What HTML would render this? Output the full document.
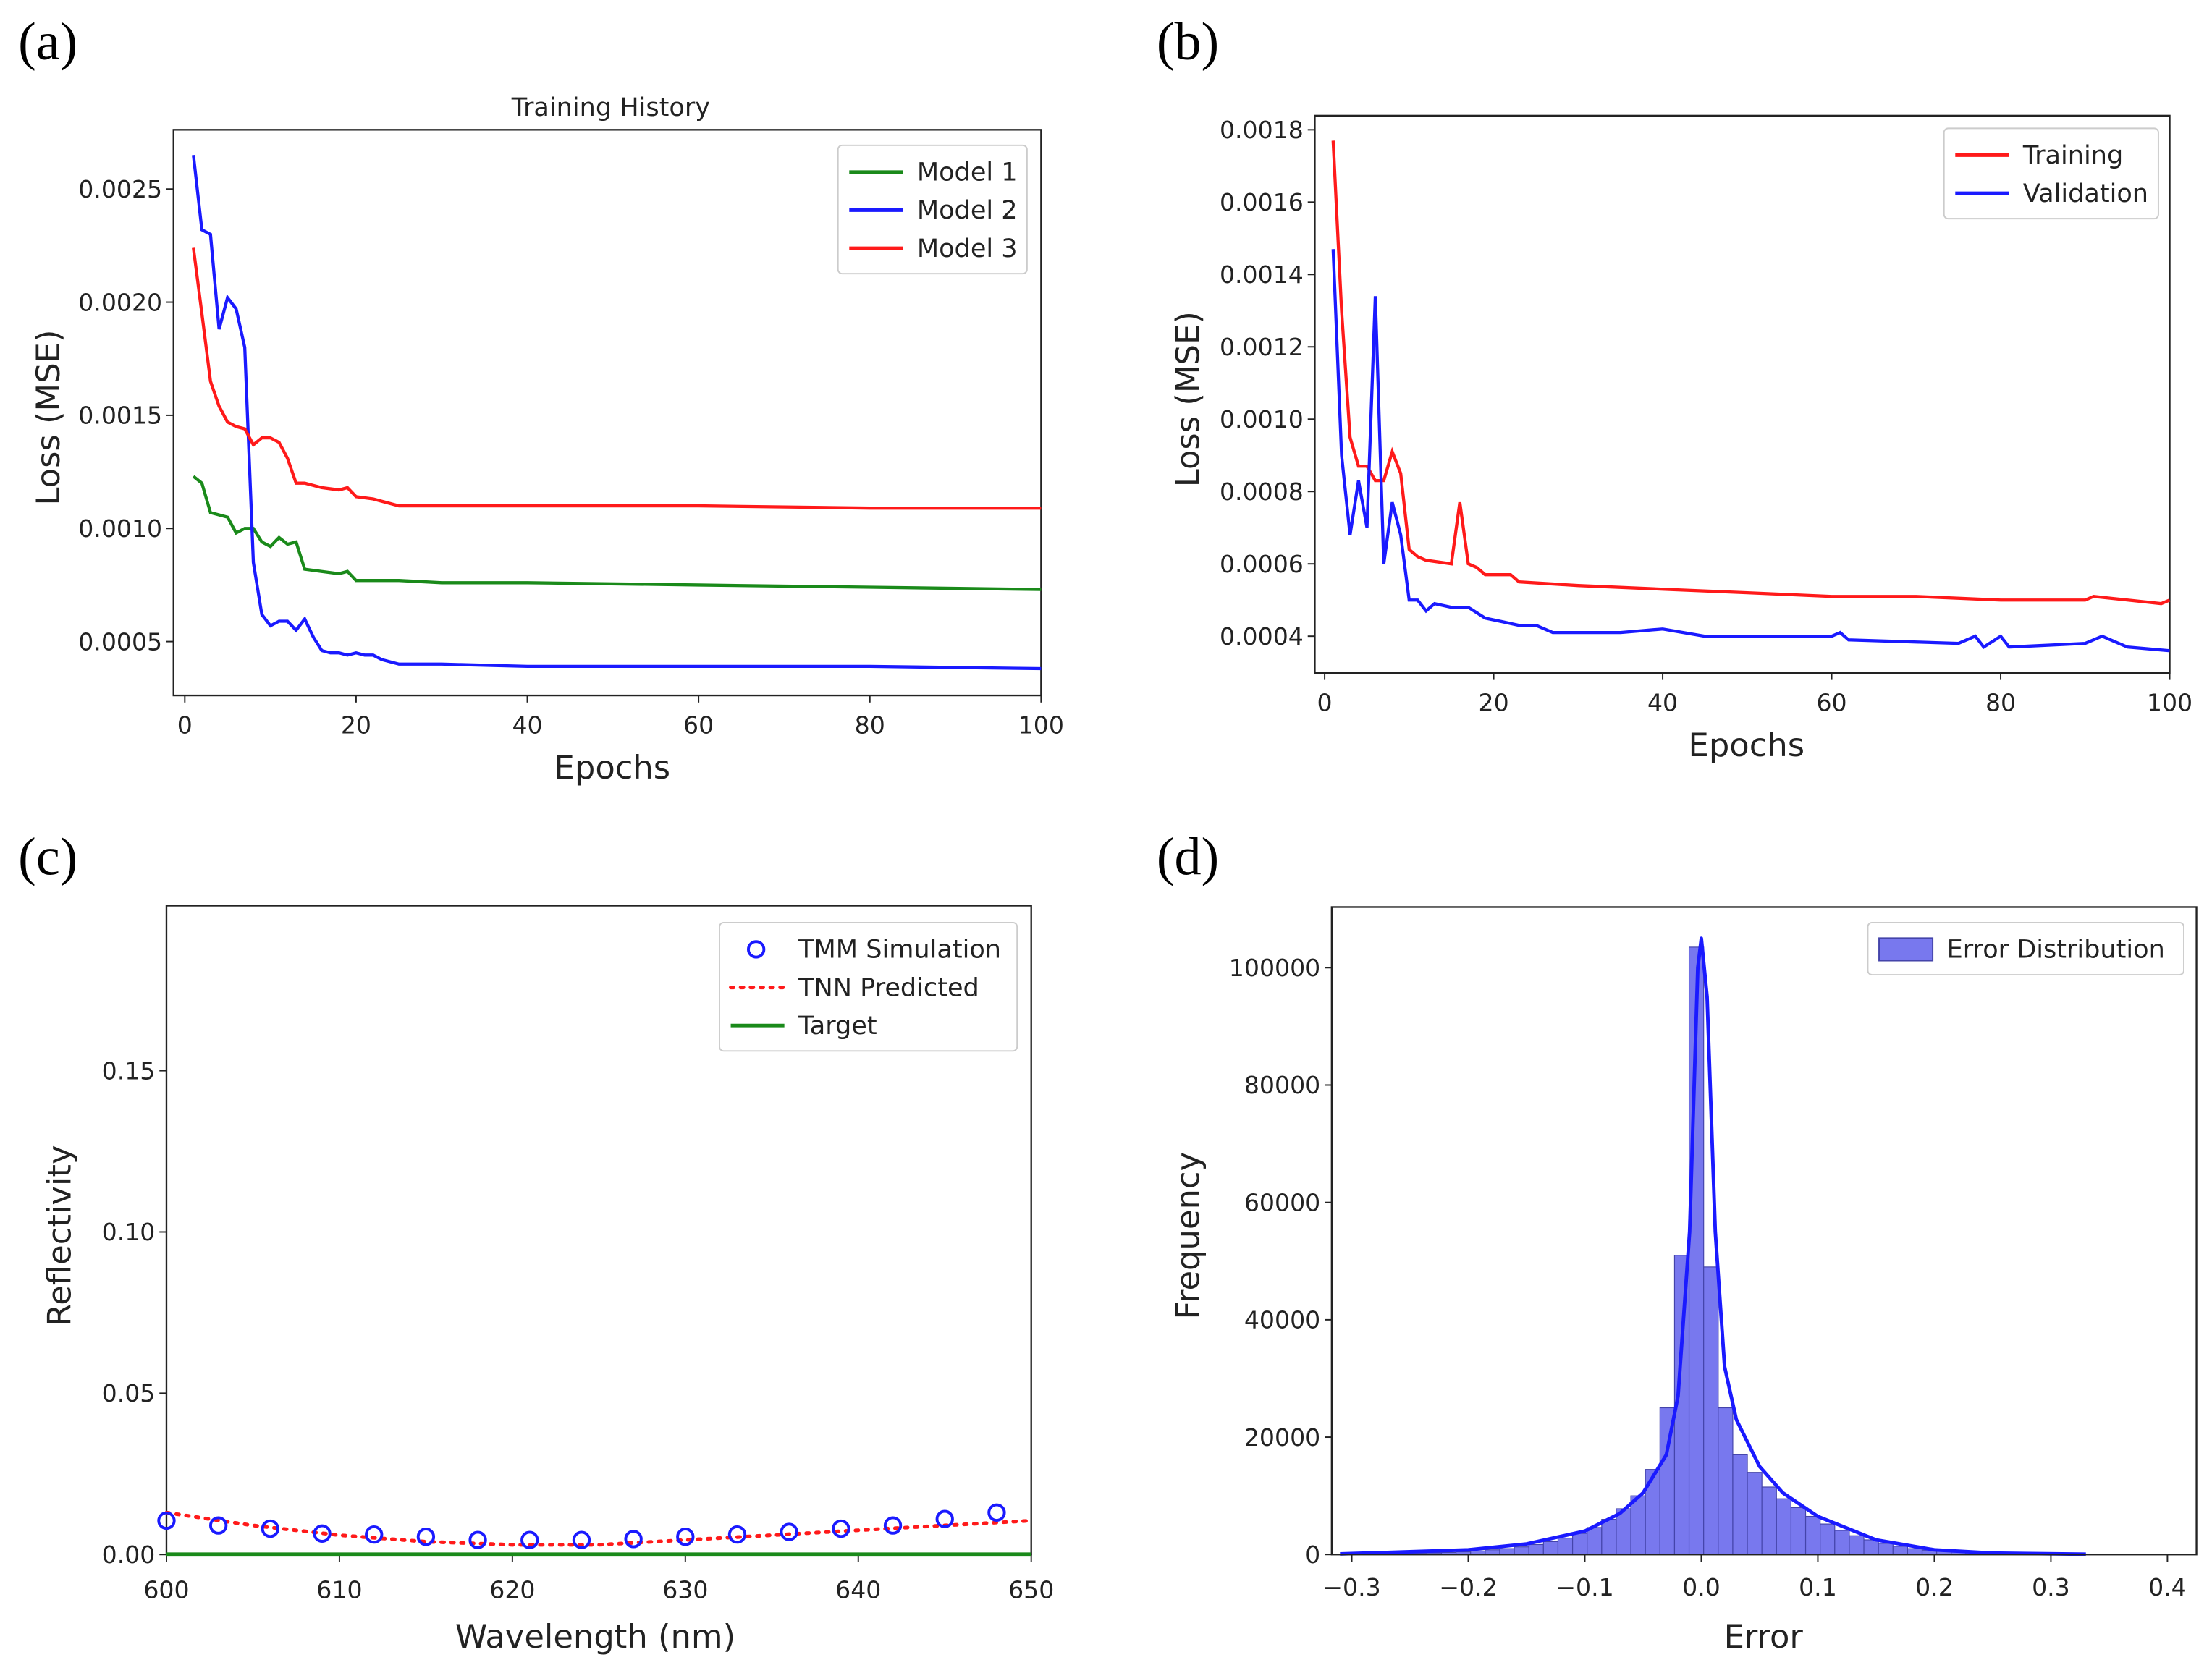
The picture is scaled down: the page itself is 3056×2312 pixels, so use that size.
<!DOCTYPE html>
<html><head><meta charset="utf-8"><style>
html,body{margin:0;padding:0;background:#fff}
svg{display:block}
text{font-family:"DejaVu Sans","Liberation Sans",sans-serif;fill:#222}
.pl{font-family:"Liberation Serif",serif;font-size:38px;fill:#000}
.tk{font-size:17px}
.al{font-size:23px}
.lg{font-size:18px}
</style></head><body>
<svg id="fig" width="3056" height="2312" viewBox="0 0 1568 1186" preserveAspectRatio="none" xmlns="http://www.w3.org/2000/svg">
<g id="root"></g>
</svg>
<script>
// Panel a data
const epochsA1=[1,2,3,4,5,6,7,8,9,10,11,12,13,14,16,18,19,20,25,30,40,60,80,100];
const model1=[0.00123,0.0012,0.00107,0.00106,0.00105,0.00098,0.001,0.001,0.00094,0.00092,0.00096,0.00093,0.00094,0.00082,0.00081,0.0008,0.00081,0.00077,0.00077,0.00076,0.00076,0.00075,0.00074,0.00073];
const epochsA2=[1,2,3,4,5,6,7,8,9,10,11,12,13,14,15,16,17,18,19,20,21,22,23,25,30,40,60,80,100];
const model2=[0.00265,0.00232,0.0023,0.00188,0.00202,0.00197,0.0018,0.00085,0.00062,0.00057,0.00059,0.00059,0.00055,0.0006,0.00052,0.00046,0.00045,0.00045,0.00044,0.00045,0.00044,0.00044,0.00042,0.0004,0.0004,0.00039,0.00039,0.00039,0.00038];
const epochsA3=[1,2,3,4,5,6,7,8,9,10,11,12,13,14,16,18,19,20,22,25,30,40,60,80,100];
const model3=[0.00224,0.00195,0.00165,0.00154,0.00147,0.00145,0.00144,0.00137,0.0014,0.0014,0.00138,0.00131,0.0012,0.0012,0.00118,0.00117,0.00118,0.00114,0.00113,0.0011,0.0011,0.0011,0.0011,0.00109,0.00109];
const ticksAy=[0.0005,0.001,0.0015,0.002,0.0025];
const ticksX=[0,20,40,60,80,100];
// Panel b data
const epochsBt=[1,2,3,4,5,6,7,8,9,10,11,12,15,16,17,18,19,22,23,30,40,50,60,70,80,90,91,99,100];
const training=[0.00177,0.0013,0.00095,0.00087,0.00087,0.00083,0.00083,0.00091,0.00085,0.00064,0.00062,0.00061,0.0006,0.00077,0.0006,0.00059,0.00057,0.00057,0.00055,0.00054,0.00053,0.00052,0.00051,0.00051,0.0005,0.0005,0.00051,0.00049,0.0005];
const epochsBv=[1,2,3,4,5,6,7,8,9,10,11,12,13,15,17,19,21,23,25,27,35,40,45,60,61,62,75,77,78,80,81,90,92,95,100];
const validation=[0.00147,0.0009,0.00068,0.00083,0.0007,0.00134,0.0006,0.00077,0.00068,0.0005,0.0005,0.00047,0.00049,0.00048,0.00048,0.00045,0.00044,0.00043,0.00043,0.00041,0.00041,0.00042,0.0004,0.0004,0.00041,0.00039,0.00038,0.0004,0.00037,0.0004,0.00037,0.00038,0.0004,0.00037,0.00036];
const ticksBy=[0.0004,0.0006,0.0008,0.001,0.0012,0.0014,0.0016,0.0018];
// Panel c data
const wlTMM=[600,603,606,609,612,615,618,621,624,627,630,633,636,639,642,645,648];
const tmm=[0.0105,0.009,0.008,0.0065,0.0062,0.0055,0.0045,0.0045,0.0045,0.0048,0.0055,0.0062,0.007,0.008,0.009,0.011,0.013];
const wlTNN=[600,605,610,615,620,625,630,635,640,645,650];
const tnn=[0.013,0.009,0.006,0.004,0.003,0.003,0.0045,0.006,0.0075,0.009,0.0105];
const ticksCx=[600,610,620,630,640,650];
const ticksCy=[0,0.05,0.1,0.15];
// Panel d data
const binStart=-0.3105, binWidth=0.0125;
const counts=[40,60,80,110,150,200,270,350,450,600,800,1000,1300,1700,2200,2800,3600,4600,6000,7800,10000,14500,25000,51000,103500,49000,25000,17000,14000,11500,9500,8000,6500,5200,4100,3200,2500,1900,1400,1000,750,550,400,280,190,130,90,60,40,25,15];
const kdeX=[-0.31,-0.2,-0.15,-0.1,-0.07,-0.05,-0.03,-0.02,-0.01,-0.003,0,0.005,0.012,0.02,0.03,0.05,0.07,0.1,0.15,0.2,0.25,0.33];
const kdeY=[100,800,1800,4000,7000,10500,17000,27000,55000,100000,105000,95000,55000,32000,23000,15000,10500,6500,2500,800,250,50];
const ticksDx=[-0.3,-0.2,-0.1,0.0,0.1,0.2,0.3,0.4];
const ticksDy=[0,20000,40000,60000,80000,100000];

const NS="http://www.w3.org/2000/svg";
const root=document.getElementById('root');
function el(tag,attrs,parent,txt){const e=document.createElementNS(NS,tag);for(const k in attrs)e.setAttribute(k,attrs[k]);if(txt!==undefined)e.textContent=txt;(parent||root).appendChild(e);return e;}
function lin(d0,d1,p0,p1){return v=>p0+(v-d0)*(p1-p0)/(d1-d0);}
function frame(g,x0,y0,x1,y1){const r=el('rect',{x:x0,y:y0,width:x1-x0,height:y1-y0,fill:'none',stroke:'#222','stroke-width':1.2},g);}
function xticks(g,vals,sx,y,fmt,off){vals.forEach(v=>{const x=sx(v);el('line',{x1:x,x2:x,y1:y,y2:y+5,stroke:'#222'},g);const t=el('text',{x:x,y:y+(off||27),'text-anchor':'middle',class:'tk'},g,fmt(v));});}
function yticks(g,vals,sy,x,fmt){vals.forEach(v=>{const y=sy(v);el('line',{x1:x-5,x2:x,y1:y,y2:y,stroke:'#222'},g);const t=el('text',{x:x-8,y:y+6,'text-anchor':'end',class:'tk'},g,fmt(v));});}
function poly(g,xs,ys,sx,sy,color,name,extra){const pts=xs.map((x,i)=>sx(x).toFixed(1)+','+sy(ys[i]).toFixed(1)).join(' ');const p=el('polyline',Object.assign({points:pts,fill:'none',stroke:color,'stroke-width':2.2},extra||{}),g);return p;}
function label(txt,x,y,cls,name,rot){const a={x:x,y:y,'text-anchor':'middle',class:cls};if(rot)a.transform='rotate(-90 '+x+' '+y+')';const t=el('text',a,root,txt);}
function legend(g,x,y,w,entries){const h=entries.length*27+10;const r=el('rect',{x:x,y:y,width:w,height:h,rx:3,fill:'#fff',stroke:'#ccc'},g);
entries.forEach((e,i)=>{const yy=y+19+i*27;const s=el('g',{},g);e.draw(s,x+8,yy);el('text',{x:x+56,y:yy+6,class:'lg'},s,e.t);});}
function fmtS(v){return v.toFixed(4);}
const plain=v=>String(v);

// Panel a
label('(a)',34,42,'pl','panel-label-a');
const ga=el('g',{});
const axA=lin(0,100,131,738), ayA=lin(0,0.0025,535,134);
frame(ga,123,92,738,493);
xticks(ga,ticksX,axA,493,plain);yticks(ga,ticksAy,ayA,123,fmtS);
poly(ga,epochsA1,model1,axA,ayA,'#1a8a1a','model-1-line');
poly(ga,epochsA2,model2,axA,ayA,'#1a1aff','model-2-line');
poly(ga,epochsA3,model3,axA,ayA,'#ff1a1a','model-3-line');
label('Training History',433,82,'lg','chart-title-a');
label('Epochs',434,552,'al','x-axis-title-a');
label('Loss (MSE)',42,296,'al','y-axis-title-a',true);
legend(ga,594,103,134,[{t:'Model 1',draw:(g,x,y)=>el('line',{x1:x,x2:x+38,y1:y,y2:y,stroke:'#1a8a1a','stroke-width':2.5},g)},{t:'Model 2',draw:(g,x,y)=>el('line',{x1:x,x2:x+38,y1:y,y2:y,stroke:'#1a1aff','stroke-width':2.5},g)},{t:'Model 3',draw:(g,x,y)=>el('line',{x1:x,x2:x+38,y1:y,y2:y,stroke:'#ff1a1a','stroke-width':2.5},g)}]);

// Panel b
label('(b)',842,42,'pl','panel-label-b');
const gb=el('g',{});
const axB=lin(0,100,939,1538), ayB=lin(0.0004,0.0018,451,92);
frame(gb,932,82,1538,477);
xticks(gb,ticksX,axB,477,plain);yticks(gb,ticksBy,ayB,932,fmtS);
poly(gb,epochsBt,training,axB,ayB,'#ff1a1a','training-line');
poly(gb,epochsBv,validation,axB,ayB,'#1a1aff','validation-line');
label('Epochs',1238,536,'al','x-axis-title-b');
label('Loss (MSE)',850,283,'al','y-axis-title-b',true);
legend(gb,1378,91,152,[{t:'Training',draw:(g,x,y)=>el('line',{x1:x,x2:x+38,y1:y,y2:y,stroke:'#ff1a1a','stroke-width':2.5},g)},{t:'Validation',draw:(g,x,y)=>el('line',{x1:x,x2:x+38,y1:y,y2:y,stroke:'#1a1aff','stroke-width':2.5},g)}]);

// Panel c
label('(c)',34,620,'pl','panel-label-c');
const gc=el('g',{});
const axC=lin(600,650,118,731), ayC=lin(0,0.15,1102,759);
frame(gc,118,642,731,1102);
xticks(gc,ticksCx,axC,1102,plain,31);yticks(gc,ticksCy,ayC,118,v=>v.toFixed(2));
poly(gc,[600,650],[0,0],axC,ayC,'#1a8a1a','target-line',{'stroke-width':3});
poly(gc,wlTNN,tnn,axC,ayC,'#ff1a1a','tnn-predicted-line',{'stroke-dasharray':'2 5','stroke-linecap':'round','stroke-width':2.6});
wlTMM.forEach((w,i)=>{const c=el('circle',{cx:axC(w),cy:ayC(tmm[i]),r:5.5,fill:'none',stroke:'#1a1aff','stroke-width':2},gc);});
label('Wavelength (nm)',422,1168,'al','x-axis-title-c');
label('Reflectivity',50,876,'al','y-axis-title-c',true);
legend(gc,510,654,211,[{t:'TMM Simulation',draw:(g,x,y)=>el('circle',{cx:x+18,cy:y,r:5.5,fill:'none',stroke:'#1a1aff','stroke-width':2},g)},{t:'TNN Predicted',draw:(g,x,y)=>el('line',{x1:x,x2:x+38,y1:y,y2:y,stroke:'#ff1a1a','stroke-width':2.6,'stroke-dasharray':'2 5','stroke-linecap':'round'},g)},{t:'Target',draw:(g,x,y)=>el('line',{x1:x,x2:x+38,y1:y,y2:y,stroke:'#1a8a1a','stroke-width':2.5},g)}]);

// Panel d
label('(d)',842,620,'pl','panel-label-d');
const gd=el('g',{});
const axD=lin(0,0.1,1206,1288.6), ayD=lin(0,100000,1102,686);
counts.forEach((c,i)=>{const x0=axD(binStart+i*binWidth),x1=axD(binStart+(i+1)*binWidth);const r=el('rect',{x:x0,y:ayD(c),width:x1-x0,height:ayD(0)-ayD(c),fill:'#7878ee',stroke:'#4444aa','stroke-width':0.6},gd);});
poly(gd,kdeX,kdeY,axD,ayD,'#1a1aff','kde-line',{'stroke-width':2.5,'stroke-linejoin':'round'});
frame(gd,944,643,1557,1102);
xticks(gd,ticksDx,axD,1102,v=>v.toFixed(1).replace('-','\u2212'),29);yticks(gd,ticksDy,ayD,944,plain);
label('Error',1250,1168,'al','x-axis-title-d');
label('Frequency',850,876,'al','y-axis-title-d',true);
legend(gd,1324,654,224,[{t:'Error Distribution',draw:(g,x,y)=>el('rect',{x:x,y:y-8,width:38,height:16,fill:'#7878ee',stroke:'#4444aa'},g)}]);
</script>
</body></html>
